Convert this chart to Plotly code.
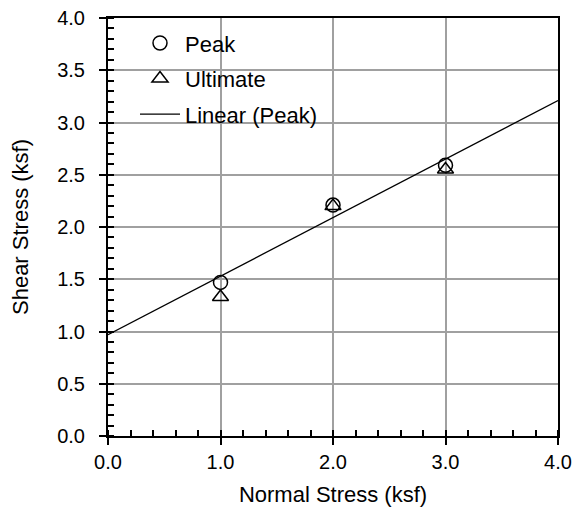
import numpy as np
import plotly.graph_objects as go

normal_stress = [1.0, 2.0, 3.0]
peak_shear = [1.47, 2.21, 2.59]
ultimate_shear = [1.33, 2.20, 2.55]

slope, intercept = np.polyfit(normal_stress, peak_shear, 1)
fit_x = [0.0, 4.0]
fit_y = [intercept + slope * v for v in fit_x]

font = "Liberation Sans, Arial, sans-serif"

fig = go.Figure()
fig.add_trace(go.Scatter(x=normal_stress, y=peak_shear, mode="markers", name="Peak",
                         legendgroup="a",
                         marker=dict(symbol="circle-open", size=14, color="black",
                                     line=dict(width=1.5, color="black"))))
fig.add_trace(go.Scatter(x=normal_stress, y=ultimate_shear, mode="markers", name="Ultimate",
                         legendgroup="b",
                         marker=dict(symbol="triangle-up-open", size=14, color="black",
                                     line=dict(width=1.5, color="black"))))
fig.add_trace(go.Scatter(x=fit_x, y=fit_y, mode="lines", name="Linear (Peak)",
                         legendgroup="c",
                         line=dict(color="black", width=1.3)))

axis_common = dict(
    showline=True, linecolor="black", linewidth=2, mirror=True,
    showgrid=True, gridcolor="#a0a0a0", gridwidth=1.5,
    ticks="outside", ticklen=7, tickwidth=2, tickcolor="black",
    tickfont=dict(family=font, size=20, color="black"),
    tickformat=".1f", zeroline=False, automargin=False,
)

fig.update_xaxes(range=[0, 4], dtick=1, **axis_common,
                 minor=dict(ticks="inside", dtick=0.2, ticklen=6, tickwidth=1.5,
                            tickcolor="black", showgrid=False),
                 title=dict(text="Normal Stress (ksf)", font=dict(family=font, size=22, color="black"),
                            standoff=15))
fig.update_yaxes(range=[0, 4], dtick=0.5, **axis_common,
                 ticklabelstandoff=10,
                 minor=dict(ticks="inside", dtick=0.1, ticklen=6, tickwidth=1.5,
                            tickcolor="black", showgrid=False),
                 title=dict(text="Shear Stress (ksf)", font=dict(family=font, size=22, color="black"),
                            standoff=22))

fig.update_layout(
    width=574, height=510,
    margin=dict(l=108, r=16, t=18, b=74),
    paper_bgcolor="white", plot_bgcolor="white",
    showlegend=True,
    legend=dict(x=0.06, y=0.99, xanchor="left", yanchor="top",
                bgcolor="rgba(255,255,255,0)", borderwidth=0,
                font=dict(family=font, size=22, color="black"),
                tracegroupgap=4, itemwidth=40),
)

fig.write_html("out.html")
